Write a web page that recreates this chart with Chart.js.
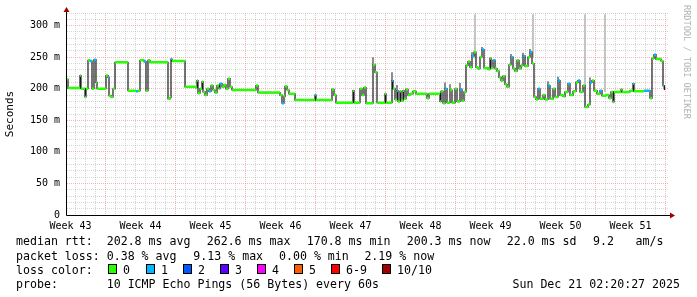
<!DOCTYPE html>
<html>
<head>
<meta charset="utf-8">
<script src="https://cdn.jsdelivr.net/npm/chart.js@4.4.1/dist/chart.umd.min.js"></script>
<style>
body{margin:0;background:#fff}
#wrap{position:relative;width:697px;height:297px;overflow:hidden}
canvas{position:absolute;left:0;top:0}
.t{position:absolute;font:11.6px "DejaVu Sans Mono";white-space:pre;color:#000;line-height:14px}
.box{position:absolute;width:7px;height:8px;border:1px solid #000;top:264px}
.wm{position:absolute;left:682px;top:5px;font:8.6px "DejaVu Sans Mono";color:#b4b4b4;writing-mode:vertical-rl;white-space:pre}
</style>
</head>
<body>
<div id="wrap">
<canvas id="c" width="697" height="297"></canvas>
<div class="wm">RRDTOOL / TOBI OETIKER</div>
</div>
<script>
// time in days from the left edge of the graph, median rtt in ms, loss (0 or 1 of 10)
const times = [0.0,0.1,1.3,1.4,1.8,1.9,2.1,2.3,2.5,2.7,2.9,3.0,3.9,4.1,4.2,4.4,4.6,4.8,6.1,6.9,7.1,7.3,7.7,7.9,8.1,8.3,
  10.1,10.3,10.4,10.5,11.8,12.8,13.0,13.1,13.3,13.5,13.6,13.8,14.0,14.2,14.4,14.6,14.8,15.0,15.2,15.3,15.5,15.7,15.9,
  16.1,16.3,16.5,18.9,19.1,21.3,21.5,21.7,21.8,22.0,22.2,22.8,24.8,24.9,26.5,26.7,26.9,28.6,28.7,29.3,29.5,29.7,29.9,
  30.6,30.8,31.0,31.8,31.9,32.5,32.6,32.8,33.0,33.1,33.3,33.4,33.6,33.7,33.9,34.1,34.3,34.6,34.9,36.0,36.2,37.3,37.4,
  37.6,37.8,38.0,38.3,38.5,38.8,39.0,39.3,39.5,39.7,39.9,40.1,40.3,40.5,40.7,40.9,41.1,41.3,41.5,41.7,42.1,42.3,42.4,
  42.6,42.8,43.0,43.2,43.4,43.6,43.8,44.0,44.2,44.4,44.6,44.8,45.0,45.2,45.4,45.6,45.8,46.1,46.3,46.5,46.7,46.9,47.1,
  47.3,47.6,47.8,48.1,48.3,48.6,48.8,49.1,49.3,49.6,49.8,50.1,50.3,50.6,50.9,51.1,51.3,51.6,51.8,52.1,52.3,52.5,52.7,
  53.0,53.3,53.5,53.9,54.2,54.4,54.6,54.7,55.4,55.5,56.3,56.6,56.7,57.7,58.3,58.5,58.7,58.9,59.4,59.6,59.7,59.8];
const median = [215,201,221,200,187,200,245,244,200,246,210,200,221,218,189,187,200,242,197,196,197,245,243,197,245,242,
  184,186,247,244,203,202,213,193,200,211,195,190,200,196,205,198,194,205,200,208,203,206,200,
  216,203,198,205,194,190,177,188,204,198,192,182,190,182,199,190,178,197,178,200,190,202,177,
  238,226,178,192,178,213,200,183,197,180,196,181,197,184,199,190,192,196,192,185,192,180,196,
  177,200,178,198,178,200,180,199,181,195,237,243,234,252,258,234,232,250,262,233,231,248,233,
  245,232,228,218,213,220,207,203,238,250,232,228,245,232,237,252,236,250,258,240,187,183,200,
  184,190,183,205,184,200,187,213,190,188,195,208,190,196,210,213,195,205,171,175,210,213,197,
  192,197,189,190,185,195,179,195,199,195,197,208,196,197,185,248,254,247,244,205,198,198];
const loss = [0,0,0,0,0,0,0,1,0,1,0,0,0,1,0,0,0,0,0,1,0,0,1,0,0,0,
  0,0,1,0,0,0,0,0,0,0,0,0,0,1,0,0,0,0,0,1,0,0,0,
  0,0,0,0,0,0,1,0,0,0,0,0,1,0,0,0,0,0,0,0,0,0,0,
  0,0,0,0,0,1,0,0,1,0,0,0,0,0,0,0,0,0,0,0,0,0,0,
  0,1,0,0,0,0,0,1,0,0,0,0,0,1,0,0,0,0,1,0,0,0,0,
  1,0,0,0,0,0,0,0,0,1,0,0,0,0,0,1,0,0,1,0,0,0,1,
  0,0,0,1,0,0,0,1,0,0,0,1,0,0,0,1,0,0,0,0,1,0,0,
  0,1,0,0,0,0,0,0,0,0,0,1,0,1,0,0,1,0,0,1,0,0];

// tall light smoke spikes (ms)
const smokeX = [40.8, 46.6, 51.8, 53.8];
const smokeLo = [248, 250, 205, 195];
const smokeHi = [318, 318, 318, 318];
// darker smoke above some noisy peaks (ms)
const smoke2X = [30.6, 32.5, 33.0, 37.8, 38.3, 39.3, 40.5, 41.5, 44.4, 45.6, 46.3, 48.1, 49.1, 52.3];
const smoke2Lo = [238, 213, 197, 200, 198, 199, 252, 262, 250, 252, 258, 205, 213, 210];
const smoke2Hi = [250, 226, 206, 210, 207, 209, 258, 266, 255, 257, 263, 212, 219, 218];

const weekLabels = ['Week 43','Week 44','Week 45','Week 46','Week 47','Week 48','Week 49','Week 50','Week 51'];
const firstWeekCenter = 0.35;   // days
const firstWeekStart = 3.85;
const yTicks = [0, 50, 100, 150, 200, 250, 300];

const lossColors = ['#26ff00', '#00b8ff'];

// build step pieces
function steps(filter) {
  const out = [];
  for (let i = 0; i < times.length - 1; i++) {
    if (loss[i] !== filter) continue;
    out.push({x: times[i], y: median[i]}, {x: times[i + 1], y: median[i]}, {x: times[i + 1], y: null});
  }
  return out;
}
const blackPts = [];
for (let i = 0; i < times.length - 1; i++) {
  blackPts.push({x: times[i], y: median[i]}, {x: times[i + 1], y: median[i]});
}
function bars(xs, lo, hi) {
  const out = [];
  xs.forEach((x, i) => out.push({x: x, y: lo[i]}, {x: x, y: hi[i]}, {x: x, y: null}));
  return out;
}

const xTickVals = [];
for (let v = firstWeekCenter; v <= 60.1; v += 0.5) xTickVals.push(Math.round(v * 100) / 100);
const yTickVals = [];
for (let v = 0; v <= 320; v += 10) yTickVals.push(v);

const near = (a) => Math.abs(a - Math.round(a)) < 0.01;
const MAJOR = 'rgba(235,120,120,0.55)', MINOR = 'rgba(140,140,140,0.35)';

const axesPlugin = {
  id: 'axes',
  afterDraw(chart) {
    const a = chart.chartArea, g = chart.ctx;
    g.save();
    g.strokeStyle = '#000';
    g.lineWidth = 1;
    g.beginPath();
    g.moveTo(a.left - 0.5, a.bottom + 0.5); g.lineTo(a.right + 2, a.bottom + 0.5);
    g.moveTo(a.left - 0.5, a.bottom + 0.5); g.lineTo(a.left - 0.5, a.top - 1);
    g.stroke();
    g.fillStyle = '#a00000';
    g.beginPath();
    g.moveTo(a.left - 0.5, a.top - 6); g.lineTo(a.left - 3.5, a.top - 1); g.lineTo(a.left + 2.5, a.top - 1);
    g.closePath(); g.fill();
    g.beginPath();
    g.moveTo(a.right + 7, a.bottom + 0.5); g.lineTo(a.right + 2, a.bottom - 2.5); g.lineTo(a.right + 2, a.bottom + 3.5);
    g.closePath(); g.fill();
    g.restore();
  }
};

new Chart(document.getElementById('c'), {
  type: 'line',
  data: {
    datasets: [
      {data: steps(1), borderColor: lossColors[1], borderWidth: 2.5, pointRadius: 0, spanGaps: false},
      {data: steps(0), borderColor: lossColors[0], borderWidth: 2.5, pointRadius: 0, spanGaps: false},
      {data: blackPts, borderColor: '#1a1a1a', borderWidth: 1.2, pointRadius: 0},
      {data: bars(smoke2X, smoke2Lo, smoke2Hi), borderColor: '#8c8c8c', borderWidth: 2, pointRadius: 0, spanGaps: false},
      {data: bars(smokeX, smokeLo, smokeHi), borderColor: '#c4c4c4', borderWidth: 2, pointRadius: 0, spanGaps: false}
    ]
  },
  options: {
    animation: false,
    responsive: false,
    layout: {padding: {left: 0, right: 29, top: 13, bottom: 0}},
    plugins: {legend: {display: false}, tooltip: {enabled: false}},
    scales: {
      x: {
        type: 'linear', min: 0, max: 60.1,
        afterFit(s) { s.height = 82; },
        afterBuildTicks(s) { s.ticks = xTickVals.map(v => ({value: v})); },
        grid: {
          drawTicks: false, lineWidth: 1,
          color(c) {
            const v = c.tick.value;
            if (near((v - firstWeekStart) / 7)) return MAJOR;
            if (near(v - 0.85)) return MINOR;
            return 'rgba(0,0,0,0)';
          }
        },
        border: {display: false, dash: [1, 1]},
        ticks: {
          autoSkip: false, maxRotation: 0, padding: 5, color: '#000',
          font: {family: 'DejaVu Sans Mono', size: 10},
          callback(v) {
            const k = (v - firstWeekCenter) / 7;
            return near(k) ? weekLabels[Math.round(k)] : '';
          }
        }
      },
      y: {
        min: 0, max: 320,
        afterFit(s) { s.width = 67; },
        afterBuildTicks(s) { s.ticks = yTickVals.map(v => ({value: v})); },
        grid: {
          drawTicks: false, lineWidth: 1,
          color(c) { return c.tick.value % 50 === 0 ? MAJOR : MINOR; }
        },
        border: {display: false, dash: [1, 1]},
        title: {display: true, text: 'Seconds', color: '#000', font: {family: 'DejaVu Sans Mono', size: 11}, padding: {top: 4, bottom: 0}},
        ticks: {
          autoSkip: false, padding: 7, color: '#000',
          font: {family: 'DejaVu Sans Mono', size: 10},
          callback(v) {
            if (!yTicks.includes(v)) return '';
            return v === 0 ? '0' : v + ' m';
          }
        }
      }
    }
  },
  plugins: [axesPlugin]
});

// legend (rrdtool style text block)
const wrap = document.getElementById('wrap');
function txt(x, y, s, right) {
  const d = document.createElement('div');
  d.className = 't';
  d.textContent = s;
  d.style.top = (y - 7) + 'px';
  if (right) d.style.right = (697 - x) + 'px'; else d.style.left = x + 'px';
  wrap.appendChild(d);
}
txt(16, 241, 'median rtt:');
[[106.7,'202.8 ms avg'],[206.7,'262.6 ms max'],[306.7,'170.8 ms min'],[406.7,'200.3 ms now'],[506.7,'22.0 ms sd'],[593,'9.2'],[635.6,'am/s']]
  .forEach(p => txt(p[0], 241, p[1]));
txt(16, 256, 'packet loss:');
[[106.7,'0.38 % avg'],[193.3,'9.13 % max'],[279,'0.00 % min'],[364.4,'2.19 % now']].forEach(p => txt(p[0], 256, p[1]));
txt(16, 269.5, 'loss color:');
const legendColors = ['#26ff00','#00b8ff','#0059ff','#5e00ff','#ff00ff','#ff5e00','#ff0000','#a00000'];
const legendNames = ['0','1','2','3','4','5','6-9','10/10'];
const boxX = [108, 146, 183, 220, 257, 294, 331, 382];
legendColors.forEach((col, i) => {
  const b = document.createElement('div');
  b.className = 'box';
  b.style.left = boxX[i] + 'px';
  b.style.background = col;
  wrap.appendChild(b);
  txt(boxX[i] + 15, 269.5, legendNames[i]);
});
txt(16, 284, 'probe:');
txt(106.7, 284, '10 ICMP Echo Pings (56 Bytes) every 60s');
txt(680, 284, 'Sun Dec 21 02:20:27 2025', true);
</script>
</body>
</html>
